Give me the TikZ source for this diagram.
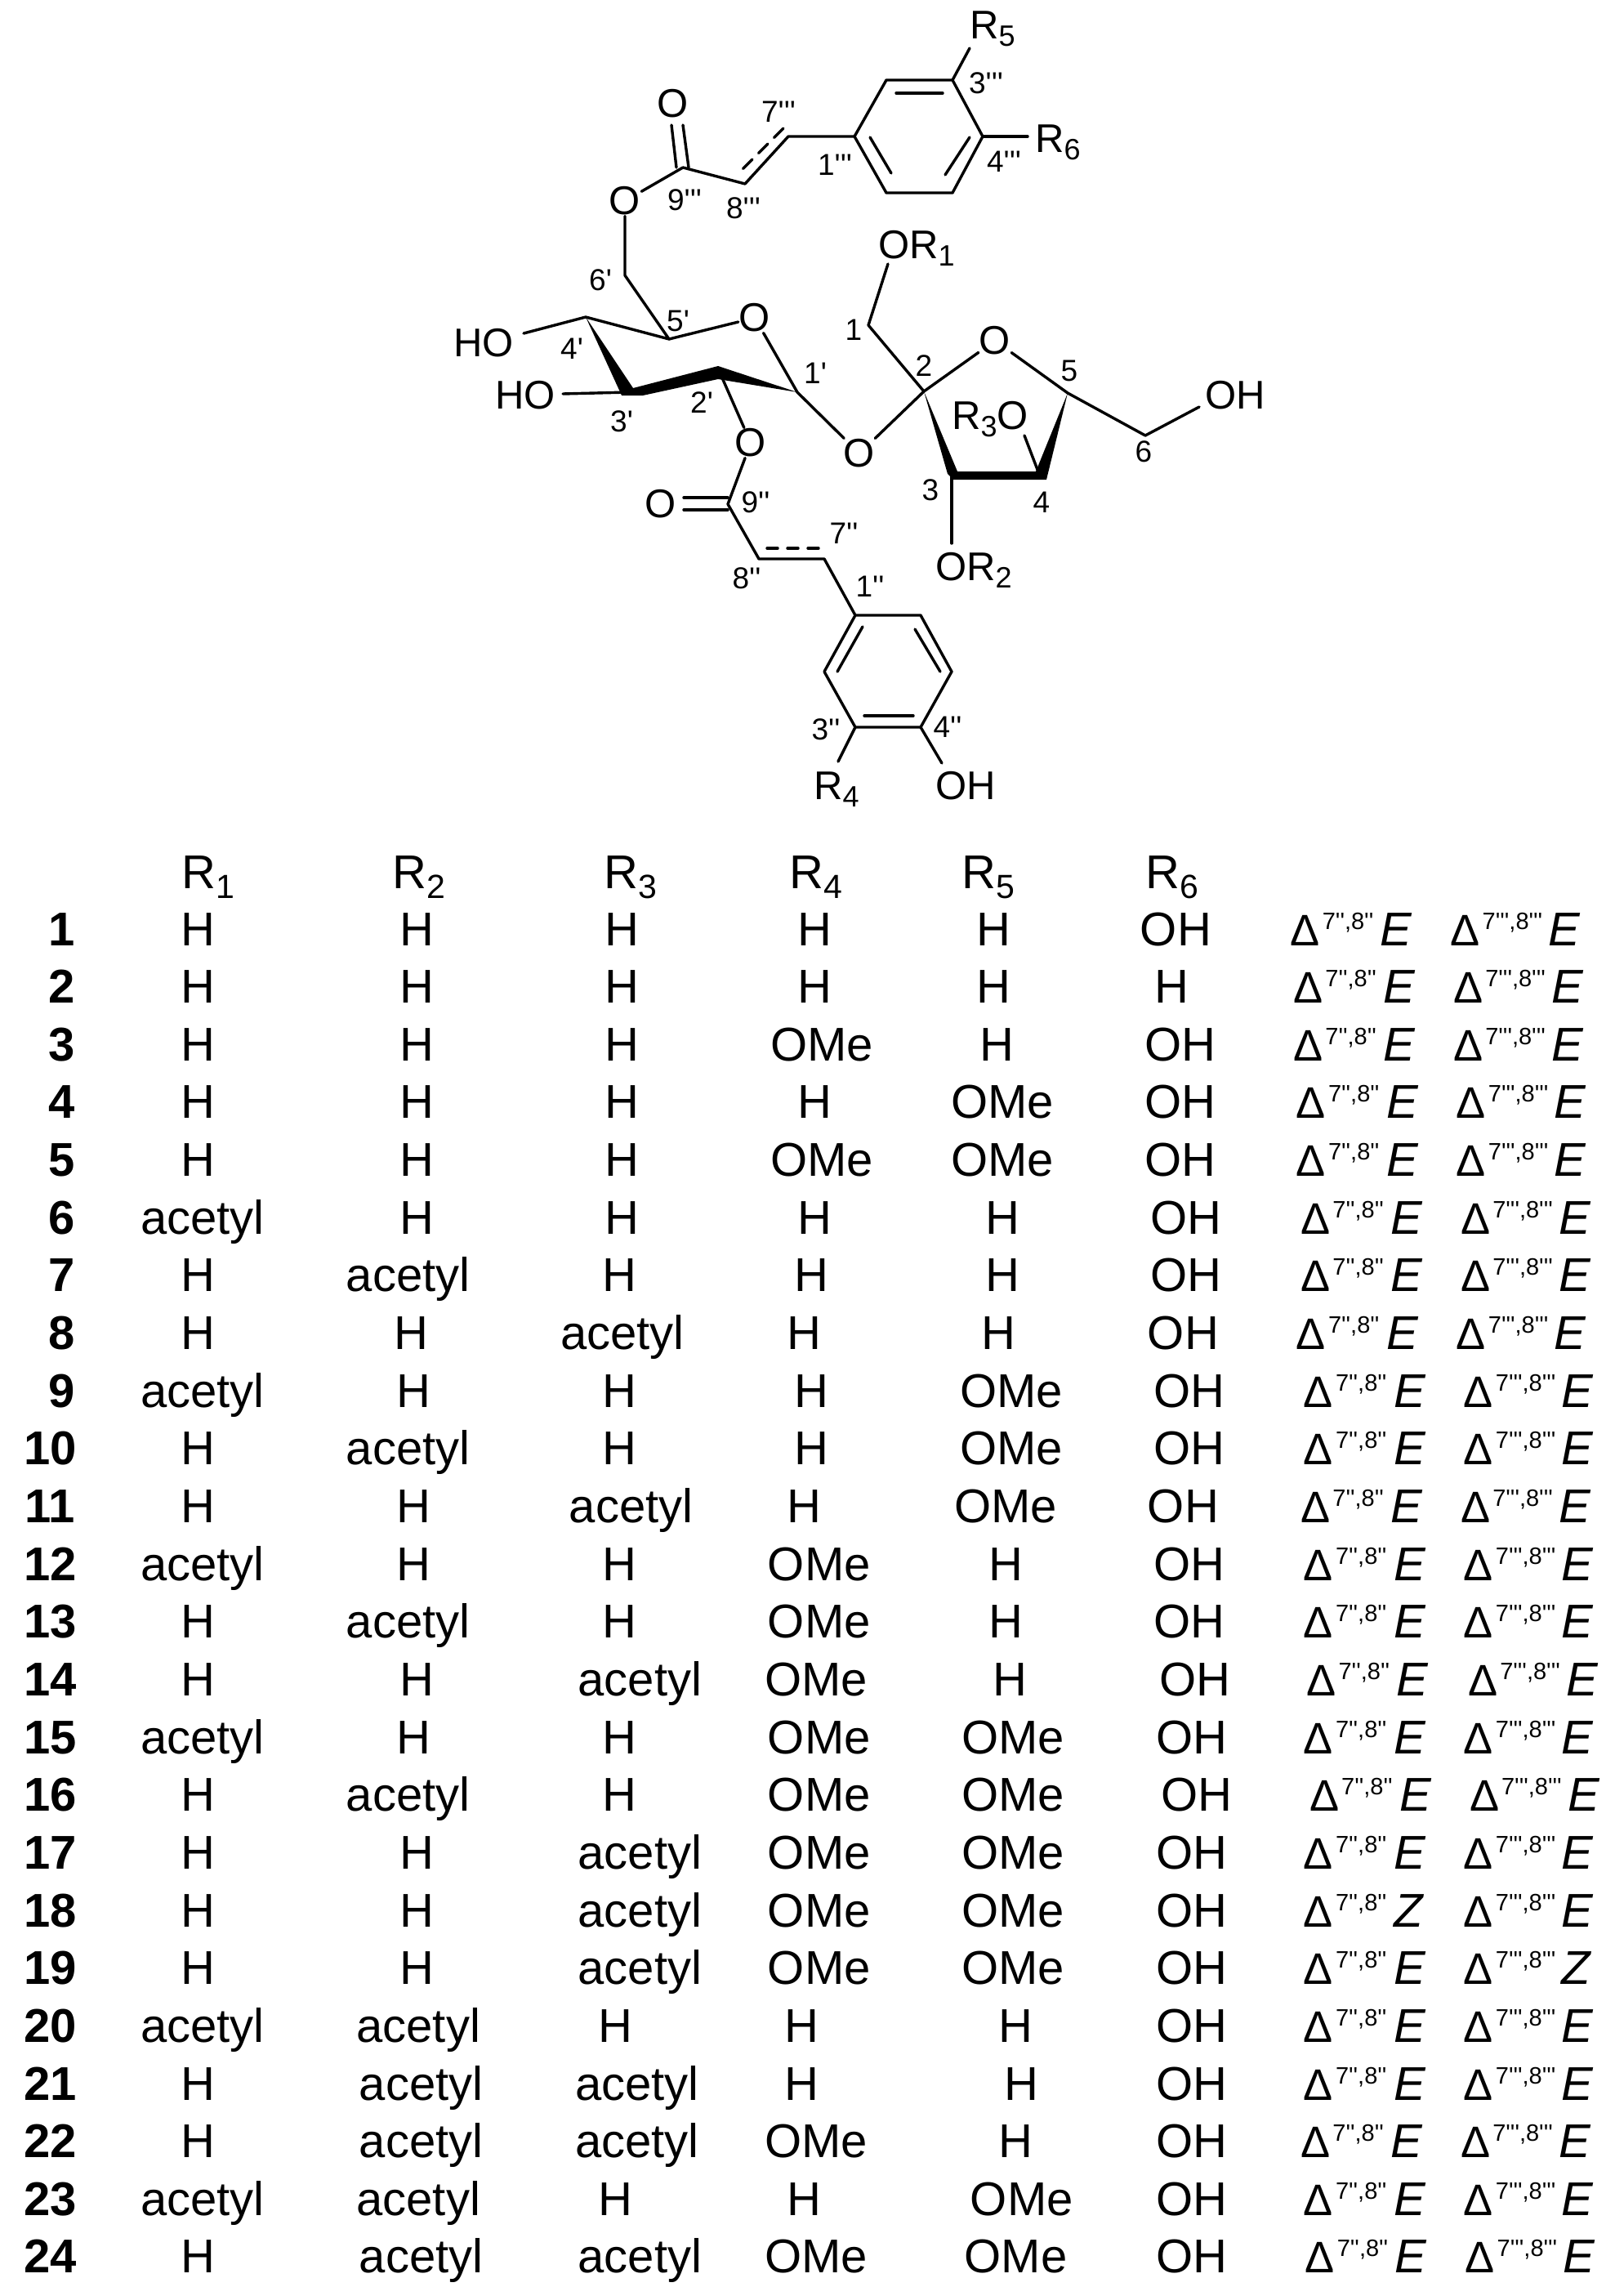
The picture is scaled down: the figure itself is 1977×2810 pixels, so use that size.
\documentclass[tikz,border=0pt]{standalone}
\usepackage{fontspec}
\setmainfont{Liberation Sans}
\newfontfamily\locfont{Liberation Sans}
\newcommand{\sizeLbl}{\fontsize{49}{51}\selectfont}
\newcommand{\sizeLoc}{\locfont\fontsize{37}{39}\selectfont}
\newcommand{\sizeCell}{\fontsize{58}{60}\selectfont}
\newcommand{\molsub}[1]{\raisebox{-9pt}{\fontsize{36}{38}\selectfont #1}}
\newcommand{\tabsub}[1]{\raisebox{-12pt}{\fontsize{41}{43}\selectfont #1}}
\newcommand{\dbl}[3]{{\fontsize{54}{56}\selectfont\symbol{"0394}}\hspace{3pt}\raisebox{20pt}{\makebox[#3][l]{\locfont\fontsize{29}{31}\selectfont 7#1,8#1}}\textit{#2}}
\tikzset{
  bond/.style={line width=3.4pt,line cap=round,line join=round},
  atomlbl/.style={font=\sizeLbl,inner sep=1pt},
  grplbl/.style={font=\sizeLbl,inner sep=0pt,anchor=base west},
  loclbl/.style={font=\sizeLoc,inner sep=0pt},
  cell/.style={font=\sizeCell,inner sep=0pt,anchor=base},
  numcell/.style={font=\sizeCell\bfseries,inner sep=0pt,anchor=base},
  dcell/.style={font=\sizeCell,inner sep=0pt,anchor=base west}
}
\begin{document}
\begin{tikzpicture}[x=1pt,y=-1pt]
  \path[use as bounding box,fill=white] (0,0) rectangle (1977,2810);
  % upper cinnamoyl ring
  \coordinate (c1t) at (1046,167);
  \coordinate (c2t) at (1085,98);
  \coordinate (c3t) at (1166,98);
  \coordinate (c4t) at (1203,167);
  \coordinate (c5t) at (1166,236);
  \coordinate (c6t) at (1085,236);
  \coordinate (c7t) at (965,167);
  \coordinate (c8t) at (912,225);
  \coordinate (c9t) at (836,205);
  \coordinate (r5end) at (1187,59);
  \coordinate (r6end) at (1258,167);
  \node[grplbl] (r5) at (1187,48) {R\molsub{5}};
  \node[grplbl] (r6) at (1267,186) {R\molsub{6}};
  \node[atomlbl] (ocot) at (824,127) {O};
  \node[atomlbl] (oest) at (765,246) {O};
  \draw[bond] (c1t) -- (c2t) -- (c3t) -- (c4t) -- (c5t) -- (c6t) -- (c1t);
  \draw[bond] (1097,114) -- (1154,114);
  \draw[bond] (1065,168) -- (1091,212);
  \draw[bond] (1187,168) -- (1157,214);
  \draw[bond] (c3t) -- (r5end);
  \draw[bond] (c4t) -- (r6end);
  \draw[bond] (c1t) -- (c7t) -- (c8t) -- (c9t);
  \draw[bond,dashed,dash pattern=on 16pt off 11pt] (959,157) -- (909,207);
  \draw[bond] (822,153) -- (828,205);
  \draw[bond] (836,153) -- (843,205);
  \draw[bond] (c9t) -- (oest);
  % pyranose
  \coordinate (c6p) at (765,337);
  \coordinate (c5p) at (819,415);
  \coordinate (c4p) at (717,388);
  \coordinate (c3p) at (770,480);
  \coordinate (c2p) at (879,451);
  \coordinate (c1p) at (976,480);
  \node[atomlbl] (orp) at (924,389) {O};
  \node[atomlbl] (oglc) at (1052,555) {O};
  \node[atomlbl] (o2p) at (919,542) {O};
  \node[grplbl] (ho4) at (555,436) {HO};
  \node[grplbl] (ho3) at (606,500) {HO};
  \coordinate (ho4end) at (641,408);
  \coordinate (ho3end) at (689,482);
  \draw[bond] (oest) -- (c6p) -- (c5p) -- (c4p) -- (ho4end);
  \draw[bond] (c5p) -- (orp) -- (c1p) -- (oglc);
  \draw[bond] (c3p) -- (ho3end);
  \draw[bond] (c2p) -- (o2p);
  \fill (717,388) -- (775,475) -- (879,448) -- (976,480) -- (879,464) -- (787,484) -- (761,484) -- cycle;
  % furanose
  \coordinate (c1f) at (1063,398);
  \coordinate (c2f) at (1131,479);
  \coordinate (c3f) at (1165,582);
  \coordinate (c4f) at (1272,580);
  \coordinate (c5f) at (1307,481);
  \coordinate (c6f) at (1402,533);
  \coordinate (or1end) at (1087,323);
  \coordinate (or2end) at (1165,665);
  \coordinate (or3end) at (1254,533);
  \coordinate (oh6end) at (1468,498);
  \node[atomlbl] (orf) at (1218,417) {O};
  \node[grplbl] (or1) at (1075,316) {OR\molsub{1}};
  \node[grplbl] (or2) at (1145,710) {OR\molsub{2}};
  \node[grplbl] (or3) at (1165,525) {R\molsub{3}O};
  \node[grplbl] (oh6) at (1475,500) {OH};
  \draw[bond] (oglc) -- (c2f) -- (c1f) -- (or1end);
  \draw[bond] (c2f) -- (orf) -- (c5f) -- (c6f) -- (oh6end);
  \draw[bond] (c3f) -- (or2end);
  \draw[bond] (c4f) -- (or3end);
  \fill (1131,479) -- (1172,577) -- (1268,577) -- (1307,481) -- (1281,587) -- (1167,587) -- (1160,580) -- cycle;
  % lower cinnamoyl
  \coordinate (c9d) at (891,617);
  \coordinate (c8d) at (929,684);
  \coordinate (c7d) at (1009,684);
  \coordinate (c1d) at (1047,753);
  \coordinate (c2d) at (1127,753);
  \coordinate (c3d) at (1165,822);
  \coordinate (c4d) at (1127,890);
  \coordinate (c5d) at (1047,890);
  \coordinate (c6d) at (1009,822);
  \coordinate (r4end) at (1026,932);
  \coordinate (ohend) at (1153,934);
  \node[atomlbl] (ocod) at (809,617) {O};
  \node[grplbl] (r4) at (996,978) {R\molsub{4}};
  \node[grplbl] (oh4) at (1145,978) {OH};
  \draw[bond] (o2p) -- (c9d) -- (c8d) -- (c7d) -- (c1d) -- (c2d) -- (c3d) -- (c4d) -- (c5d) -- (c6d) -- (c1d);
  \draw[bond] (837,609) -- (891,609);
  \draw[bond] (837,624) -- (891,624);
  \draw[bond,dashed,dash pattern=on 13pt off 12pt] (939,671) -- (1009,671);
  \draw[bond] (1056,767) -- (1025,822);
  \draw[bond] (1120,770) -- (1151,822);
  \draw[bond] (1058,876) -- (1118,876);
  \draw[bond] (c5d) -- (r4end);
  \draw[bond] (c4d) -- (ohend);
  % locants
  \node[loclbl] (l3t) at (1207,102) {3'''};
  \node[loclbl] (l4t) at (1229,198) {4'''};
  \node[loclbl] (l1t) at (1022,202) {1'''};
  \node[loclbl] (l7t) at (953,137) {7'''};
  \node[loclbl] (l8t) at (910,255) {8'''};
  \node[loclbl] (l9t) at (838,245) {9'''};
  \node[loclbl] (l6p) at (735,343) {6'};
  \node[loclbl] (l5p) at (830,393) {5'};
  \node[loclbl] (l4p) at (700,427) {4'};
  \node[loclbl] (l3p) at (761,516) {3'};
  \node[loclbl] (l2p) at (859,493) {2'};
  \node[loclbl] (l1p) at (998,457) {1'};
  \node[loclbl] (l1f) at (1045,404) {1};
  \node[loclbl] (l2f) at (1131,448) {2};
  \node[loclbl] (l3f) at (1139,600) {3};
  \node[loclbl] (l4f) at (1275,615) {4};
  \node[loclbl] (l5f) at (1309,454) {5};
  \node[loclbl] (l6f) at (1400,553) {6};
  \node[loclbl] (l9d) at (925,615) {9''};
  \node[loclbl] (l7d) at (1033,653) {7''};
  \node[loclbl] (l8d) at (914,708) {8''};
  \node[loclbl] (l1d) at (1065,718) {1''};
  \node[loclbl] (l3d) at (1011,893) {3''};
  \node[loclbl] (l4d) at (1160,890) {4''};
  % table header
  \foreach \i/\hx in {1/222,2/480,3/739,4/966,5/1177,6/1402}
    \node[dcell] (head\i) at (\hx,1087) {R\tabsub{\i}};
  % table rows
  \foreach \row/\nx/\a/\ax/\b/\bx/\c/\cx/\d/\dx/\e/\ex/\f/\fx/\gl/\hl/\gx/\hx in {
    1/41/H/135/H/284/H/424/H/555/H/677/OH/801/E/E/879/988,
    2/41/H/135/H/284/H/424/H/555/H/677/H/798/E/E/881/990,
    3/41/H/135/H/284/H/424/OMe/560/H/679/OH/804/E/E/881/990,
    4/41/H/135/H/284/H/424/H/555/OMe/683/OH/804/E/E/883/992,
    5/41/H/135/H/284/H/424/OMe/560/OMe/683/OH/804/E/E/883/992,
    6/41/acetyl/138/H/284/H/424/H/555/H/683/OH/808/E/E/886/995,
    7/41/H/135/acetyl/278/H/422/H/553/H/683/OH/808/E/E/886/995,
    8/41/H/135/H/280/acetyl/424/H/548/H/680/OH/806/E/E/883/992,
    9/41/acetyl/138/H/282/H/422/H/553/OMe/689/OH/810/E/E/888/997,
    10/33/H/135/acetyl/278/H/422/H/553/OMe/689/OH/810/E/E/888/997,
    11/33/H/135/H/282/acetyl/430/H/548/OMe/685/OH/806/E/E/886/995,
    12/33/acetyl/138/H/282/H/422/OMe/558/H/685/OH/810/E/E/888/997,
    13/33/H/135/acetyl/278/H/422/OMe/558/H/685/OH/810/E/E/888/997,
    14/33/H/135/H/284/acetyl/436/OMe/556/H/688/OH/814/E/E/890/1000,
    15/33/acetyl/138/H/282/H/422/OMe/558/OMe/690/OH/812/E/E/888/997,
    16/33/H/135/acetyl/278/H/422/OMe/558/OMe/690/OH/815/E/E/892/1001,
    17/33/H/135/H/284/acetyl/436/OMe/558/OMe/690/OH/812/E/E/888/997,
    18/33/H/135/H/284/acetyl/436/OMe/558/OMe/690/OH/812/Z/E/888/997,
    19/33/H/135/H/284/acetyl/436/OMe/558/OMe/690/OH/812/E/Z/888/997,
    20/33/acetyl/138/acetyl/285/H/419/H/546/H/692/OH/812/E/E/888/997,
    21/33/H/135/acetyl/287/acetyl/434/H/546/H/696/OH/812/E/E/888/997,
    22/33/H/135/acetyl/287/acetyl/434/OMe/556/H/692/OH/812/E/E/886/995,
    23/33/acetyl/138/acetyl/285/H/419/H/548/OMe/696/OH/812/E/E/888/997,
    24/33/H/135/acetyl/287/acetyl/436/OMe/556/OMe/692/OH/812/E/E/889/998}
  {
    \pgfmathsetmacro\yy{1157+70.65*(\row-1)}
    \node[numcell] (n\row) at ({\nx*1.797+2},\yy) {\row};
    \node[cell] (a\row) at ({\ax*1.797},\yy) {\a};
    \node[cell] (b\row) at ({\bx*1.797},\yy) {\b};
    \node[cell] (c\row) at ({\cx*1.797},\yy) {\c};
    \node[cell] (d\row) at ({\dx*1.797},\yy) {\d};
    \node[cell] (e\row) at ({\ex*1.797},\yy) {\e};
    \node[cell] (f\row) at ({\fx*1.797},\yy) {\f};
    \node[dcell] (g\row) at ({\gx*1.797},\yy) {\dbl{''}{\gl}{71pt}};
    \node[dcell] (h\row) at ({\hx*1.797},\yy) {\dbl{'''}{\hl}{81pt}};
  }
\end{tikzpicture}
\end{document}
